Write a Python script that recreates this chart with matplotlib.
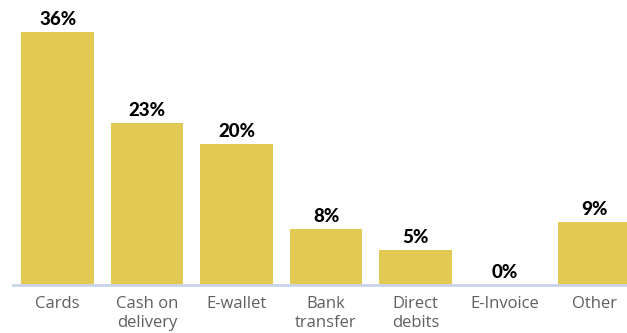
import matplotlib
matplotlib.use("Agg")
import matplotlib.pyplot as plt

categories = ["Cards", "Cash on\ndelivery", "E-wallet", "Bank\ntransfer", "Direct\ndebits", "E-Invoice", "Other"]
shares = [36, 23, 20, 8, 5, 0, 9]

W, H = 627, 333
fig = plt.figure(figsize=(W / 100, H / 100), dpi=100)
# axes spans from the left margin to the right edge of the canvas
left_px, bottom_px, top_px = 13, 333 - 285, 333 - 10
ax = fig.add_axes([left_px / W, bottom_px / H, 1 - left_px / W, (top_px - bottom_px) / H])

x = list(range(len(categories)))
ax.bar(x, shares, width=0.81, color="#e1c953", zorder=2)

for xi, v in zip(x, shares):
    ax.annotate(f"{v}%", (xi, v), xytext=(0, 3), textcoords="offset points",
                ha="center", va="bottom", fontsize=13.5, fontweight="black",
                family=["Lato", "DejaVu Sans"], color="#000000")

ax.set_xlim(-0.5, 6.365)
ax.set_ylim(0, 39.1)
ax.set_xticks(x)
ax.set_xticklabels(categories, fontsize=12, color="#5f5f5f",
                   family=["Open Sans", "DejaVu Sans"], linespacing=1.25)
ax.tick_params(axis="x", length=0, pad=8)
ax.set_yticks([])
for side in ("top", "right", "left"):
    ax.spines[side].set_visible(False)
ax.spines["bottom"].set_color("#c7d4ea")
ax.spines["bottom"].set_linewidth(2)

fig.savefig("out.png", dpi=100)
